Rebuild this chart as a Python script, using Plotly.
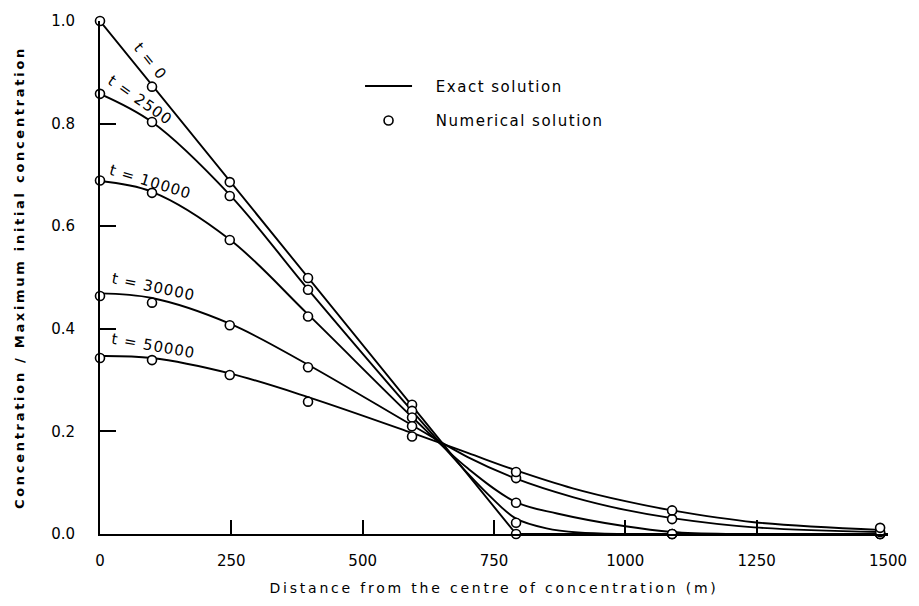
import plotly.graph_objects as go

# ---------------- data ----------------
times = ["t = 0", "t = 2500", "t = 10000", "t = 30000", "t = 50000"]

# numerical solution (open circles)
x_num = [0, 99, 247, 396, 594, 792, 1089, 1485]
num_t0 = [1.000, 0.872, 0.686, 0.499, 0.252, 0.000, 0.000, 0.000]
num_t2500 = [0.858, 0.803, 0.659, 0.476, 0.240, 0.022, 0.000, 0.000]
num_t10000 = [0.689, 0.665, 0.573, 0.424, 0.227, 0.061, 0.000, 0.000]
num_t30000 = [0.464, 0.451, 0.407, 0.325, 0.210, 0.109, 0.029, 0.004]
num_t50000 = [0.343, 0.339, 0.310, 0.258, 0.190, 0.121, 0.046, 0.012]

# exact solution (solid curves)
x_ex_t0 = [0, 792, 1500]
ex_t0 = [1.0, 0.0, 0.0]
x_ex_t2500 = [0, 99, 247, 396, 594, 700, 750, 792, 850, 910, 1000, 1500]
ex_t2500 = [0.858, 0.803, 0.661, 0.477, 0.240, 0.118, 0.066, 0.030, 0.011, 0.003, 0.0, 0.0]
x_ex_t10000 = [0, 99, 247, 396, 594, 700, 792, 870, 1000, 1089, 1200, 1500]
ex_t10000 = [0.688, 0.667, 0.574, 0.428, 0.228, 0.128, 0.062, 0.040, 0.015, 0.004, 0.0, 0.0]
x_ex_t30000 = [0, 99, 247, 396, 594, 700, 792, 900, 1000, 1089, 1245, 1485]
ex_t30000 = [0.469, 0.460, 0.410, 0.330, 0.212, 0.150, 0.108, 0.072, 0.047, 0.031, 0.013, 0.004]
x_ex_t50000 = [0, 99, 247, 396, 594, 700, 792, 900, 1000, 1089, 1245, 1485]
ex_t50000 = [0.347, 0.343, 0.313, 0.267, 0.197, 0.158, 0.124, 0.089, 0.064, 0.046, 0.023, 0.008]

x_ticks = [0, 250, 500, 750, 1000, 1250, 1500]
x_tick_labels = ["0", "250", "500", "750", "1000", "1250", "1500"]
y_ticks = [0.0, 0.2, 0.4, 0.6, 0.8, 1.0]
y_tick_labels = ["0.0", "0.2", "0.4", "0.6", "0.8", "1.0"]

# label anchor positions (data coords) and angles for curve labels
label_x = [97, 76, 97, 102, 102]
label_y = [0.921, 0.846, 0.686, 0.481, 0.366]
label_angle = [51, 35, 17, 12, 10]

# ---------------- figure ----------------
FONT = "DejaVu Sans"
fig = go.Figure()

exact = [(x_ex_t0, ex_t0, "linear"), (x_ex_t2500, ex_t2500, "spline"),
         (x_ex_t10000, ex_t10000, "spline"), (x_ex_t30000, ex_t30000, "spline"),
         (x_ex_t50000, ex_t50000, "spline")]
for i, (xs, ys, shape) in enumerate(exact):
    fig.add_trace(go.Scatter(
        x=xs, y=ys, mode="lines",
        line=dict(color="black", width=1.9, shape=shape, smoothing=1.0),
        name='<span style="letter-spacing:1.5px">\u00a0\u00a0\u00a0Exact solution</span>',
        legendgroup="exact", showlegend=(i == 0), cliponaxis=False, hoverinfo="skip"))

numerical = [num_t0, num_t2500, num_t10000, num_t30000, num_t50000]
for i, ys in enumerate(numerical):
    fig.add_trace(go.Scatter(
        x=x_num, y=ys, mode="markers",
        marker=dict(symbol="circle", size=9, color="white",
                    line=dict(color="black", width=1.6)),
        name='<span style="letter-spacing:1.5px">\u00a0\u00a0\u00a0Numerical solution</span>',
        legendgroup="num", showlegend=(i == 0), cliponaxis=False, hoverinfo="skip"))

for t, lx, ly, ang in zip(times, label_x, label_y, label_angle):
    fig.add_annotation(x=lx, y=ly, xref="x", yref="y",
                       text='<span style="letter-spacing:1px">' + t + '</span>',
                       showarrow=False, textangle=ang,
                       font=dict(family=FONT, size=15, color="black"),
                       xanchor="center", yanchor="middle")

fig.update_layout(
    width=919, height=606,
    margin=dict(l=100, r=30, t=16, b=68),
    paper_bgcolor="white", plot_bgcolor="white",
    font=dict(family=FONT, color="black"),
    showlegend=True,
    legend=dict(x=0.33, y=0.905, xanchor="left", yanchor="top",
                bgcolor="rgba(0,0,0,0)", borderwidth=0,
                font=dict(family=FONT, size=15, color="black"),
                traceorder="grouped", tracegroupgap=12, itemwidth=47),
    xaxis=dict(range=[0, 1500], showgrid=False, zeroline=False,
               showline=True, linecolor="black", linewidth=2,
               ticks="inside", ticklen=14, tickwidth=1.5, tickcolor="black",
               tickvals=x_ticks, ticktext=x_tick_labels,
               tickfont=dict(family=FONT, size=15, color="black"),
               ticklabelstandoff=12,
               title=dict(text='<span style="letter-spacing:2.8px">Distance from the centre of concentration (m)</span>',
                          font=dict(family=FONT, size=14, color="black"), standoff=14)),
    yaxis=dict(range=[0, 1], showgrid=False, zeroline=False,
               showline=True, linecolor="black", linewidth=2,
               ticks="inside", ticklen=16, tickwidth=1.5, tickcolor="black",
               tickvals=y_ticks, ticktext=y_tick_labels,
               tickfont=dict(family=FONT, size=15, color="black"),
               ticklabelstandoff=20,
               title=dict(text='<span style="letter-spacing:2.7px">Concentration / Maximum initial concentration</span>',
                          font=dict(family=FONT, size=13, color="black", weight="bold"), standoff=24)),
)

fig.write_html("out.html")
